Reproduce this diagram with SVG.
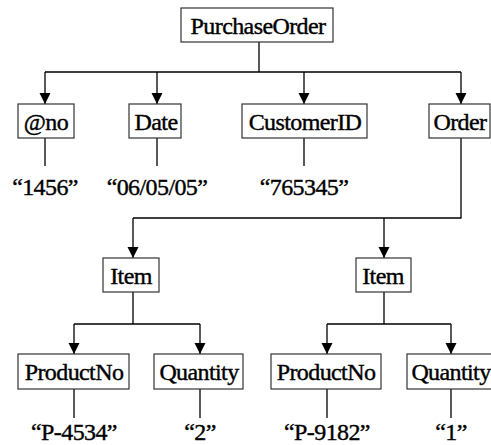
<svg xmlns="http://www.w3.org/2000/svg" width="491" height="445" viewBox="0 0 491 445">
<defs>
<style>
.box{fill:#fff;stroke:#333;stroke-width:1.2}
.c{fill:none;stroke:#000;stroke-width:1.3}
</style>
<marker id="ar" viewBox="0 0 10 10" refX="10" refY="5" markerWidth="11" markerHeight="12" markerUnits="userSpaceOnUse" orient="auto">
<path d="M0,0 L10,5 L0,10 z" fill="#000"/>
</marker>
</defs>
<rect width="491" height="445" fill="#fff"/>
<g id="connectors">
<path class="c" d="M259,42 V72 M45,72 H461"/>
<path class="c" d="M45,72 V104" marker-end="url(#ar)"/>
<path class="c" d="M157,72 V104" marker-end="url(#ar)"/>
<path class="c" d="M304,72 V104" marker-end="url(#ar)"/>
<path class="c" d="M461,72 V104" marker-end="url(#ar)"/>
<path class="c" d="M45,138 V166 M157,138 V166 M304,138 V166"/>
<path class="c" d="M461,138 V218 H133"/>
<path class="c" d="M133,218 V258" marker-end="url(#ar)"/>
<path class="c" d="M384,218 V258" marker-end="url(#ar)"/>
<path class="c" d="M133,292 V324 M74,324 H200"/>
<path class="c" d="M74,324 V354" marker-end="url(#ar)"/>
<path class="c" d="M200,324 V354" marker-end="url(#ar)"/>
<path class="c" d="M384,292 V324 M327,324 H451"/>
<path class="c" d="M327,324 V354" marker-end="url(#ar)"/>
<path class="c" d="M451,324 V354" marker-end="url(#ar)"/>
<path class="c" d="M74,389 V418 M200,389 V418 M327,389 V418 M451,389 V418"/>
</g>
<g font-family="Liberation Serif, Times New Roman, serif" font-size="24" fill="#000" stroke="#000" stroke-width="0.4" text-anchor="middle" letter-spacing="-0.6">
<g id="PurchaseOrder"><rect class="box" x="181" y="8" width="152" height="34"/><text x="258" y="34">PurchaseOrder</text></g>
<g id="no"><rect class="box" x="18" y="104" width="56" height="34"/><text x="46" y="130">@no</text></g>
<g id="Date"><rect class="box" x="129" y="104" width="52" height="34"/><text x="156" y="130">Date</text></g>
<g id="CustomerID"><rect class="box" x="242" y="104" width="125" height="34"/><text x="305" y="130">CustomerID</text></g>
<g id="Order"><rect class="box" x="429" y="104" width="61" height="34"/><text x="460" y="130">Order</text></g>
<g id="v1456"><text x="45" y="195">“1456”</text></g>
<g id="vDate"><text x="157" y="195">“06/05/05”</text></g>
<g id="vCust"><text x="304" y="195">“765345”</text></g>
<g id="Item1"><rect class="box" x="103" y="258" width="56" height="34"/><text x="131" y="284">Item</text></g>
<g id="Item2"><rect class="box" x="356" y="258" width="55" height="34"/><text x="383" y="284">Item</text></g>
<g id="ProductNo1"><rect class="box" x="18" y="354" width="111" height="35"/><text x="74" y="380">ProductNo</text></g>
<g id="Quantity1"><rect class="box" x="154" y="354" width="89" height="35"/><text x="199" y="380">Quantity</text></g>
<g id="ProductNo2"><rect class="box" x="271" y="354" width="110" height="35"/><text x="326" y="380">ProductNo</text></g>
<g id="Quantity2"><rect class="box" x="407" y="354" width="89" height="35"/><text x="451" y="380">Quantity</text></g>
<g id="vP4534"><text x="74" y="440">“P-4534”</text></g>
<g id="v2"><text x="200" y="440">“2”</text></g>
<g id="vP9182"><text x="327" y="440">“P-9182”</text></g>
<g id="v1"><text x="451" y="440">“1”</text></g>
</g>
</svg>
